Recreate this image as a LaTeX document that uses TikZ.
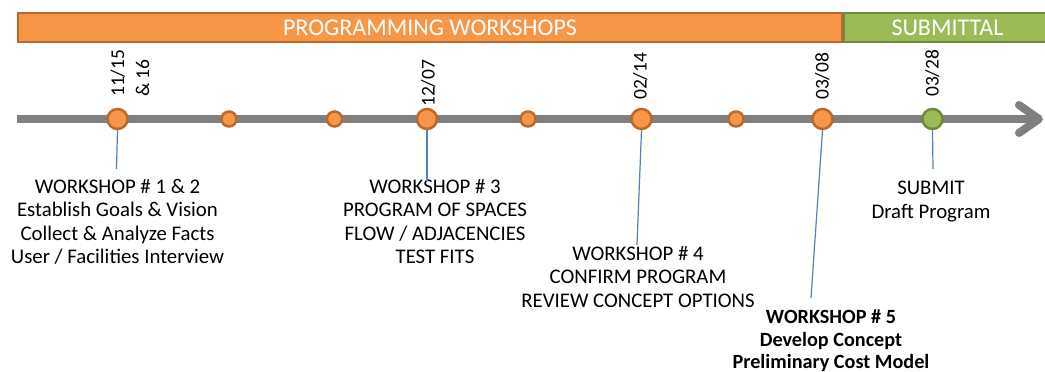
\documentclass[tikz,border=0pt]{standalone}
\usepackage{fontspec}
\setmainfont{Carlito}
\usetikzlibrary{calc}

\definecolor{wsorange}{HTML}{F79646}
\definecolor{wsorangeline}{HTML}{B7692E}
\definecolor{subgreen}{HTML}{9BBB59}
\definecolor{subgreenline}{HTML}{71893F}
\definecolor{axisgray}{HTML}{7F7F7F}
\definecolor{leaderblue}{HTML}{4F81BD}

\begin{document}
\begin{tikzpicture}[x=1pt,y=-1pt,
  phasebar/.style={draw, line width=2pt, minimum height=29, inner sep=0,
    text=white, font=\fontsize{24}{26}\selectfont},
  orangebar/.style={phasebar, draw=wsorangeline, fill=wsorange},
  greenbar/.style={phasebar, draw=subgreenline, fill=subgreen},
  axis/.style={axisgray, line width=8pt},
  bigdot/.style={circle, draw=wsorangeline, fill=wsorange, line width=2.5pt,
    minimum size=20, inner sep=0},
  smalldot/.style={bigdot, minimum size=15},
  greendot/.style={bigdot, draw=subgreenline, fill=subgreen},
  datelabel/.style={rotate=90, inner sep=0, font=\fontsize{19.5}{25}\selectfont,
    anchor=base west},
  wslabel/.style={align=center, inner sep=0, anchor=north,
    font=\fontsize{20.8}{23.5}\selectfont},
  leader/.style={leaderblue, line width=1.2pt},
]
\clip (0,0) rectangle (1045,372);
\fill[white] (0,0) rectangle (1045,372);

% phase bars
\node[orangebar, minimum width=824] (barprog) at (430,27.5) {PROGRAMMING WORKSHOPS};
\node[greenbar, minimum width=207] (barsub) at (947.5,27.5) {SUBMITTAL};

% time axis with open arrow head
\coordinate (axstart) at (17,119);
\coordinate (axtip) at (1039,119);
\draw[axis] (axstart) -- ($(axtip)+(-3,0)$);
\draw[axis, line cap=round, line join=round]
  ($(axtip)+(-20,-14)$) -- (axtip) -- ($(axtip)+(-20,14)$);

% milestones
\node[bigdot]   (m1) at (117.5,119) {};
\node[smalldot] (s1) at (229,119) {};
\node[smalldot] (s2) at (334.5,119) {};
\node[bigdot]   (m3) at (427,119) {};
\node[smalldot] (s3) at (528,119) {};
\node[bigdot]   (m4) at (641.5,119) {};
\node[smalldot] (s4) at (736,119) {};
\node[bigdot]   (m5) at (822.5,119) {};
\node[greendot] (m6) at (932.5,119) {};

% dates
\node[datelabel, anchor=north west, align=left] (d1) at (110.5,97) {11/15\\\& 16};
\node[datelabel] (d3) at (434.5,107) {12/07};
\node[datelabel] (d4) at (646.5,100) {02/14};
\node[datelabel] (d5) at (828.5,100) {03/08};
\node[datelabel] (d6) at (938.5,97) {03/28};

% workshop descriptions
\node[wslabel] (w1) at (117.5,179) {WORKSHOP \# 1 \& 2\\Establish Goals \& Vision\\Collect \& Analyze Facts\\User / Facilities Interview};
\node[wslabel] (w3) at (435,179) {WORKSHOP \# 3\\PROGRAM OF SPACES\\FLOW / ADJACENCIES\\TEST FITS};
\node[wslabel] (w4) at (638,246) {WORKSHOP \# 4\\CONFIRM PROGRAM\\REVIEW CONCEPT OPTIONS};
\node[wslabel, font=\fontsize{20.2}{22.5}\selectfont\bfseries] (w5) at (831,310) {WORKSHOP \# 5\\Develop Concept\\Preliminary Cost Model};
\node[wslabel] (w6) at (931,181) {SUBMIT\\Draft Program};

% leaders from milestones to descriptions
\draw[leader] (m1.south) -- ([shift={(-1,-10)}]w1.north);
\draw[leader] (m3.south) -- ([shift={(-8,2)}]w3.north);
\draw[leader] (m4.south) -- ([shift={(-1,-1)}]w4.north);
\draw[leader] (m5.south) -- ([shift={(-20,-12)}]w5.north);
\draw[leader] (m6.south) -- ([shift={(2,-12)}]w6.north);
\end{tikzpicture}
\end{document}
